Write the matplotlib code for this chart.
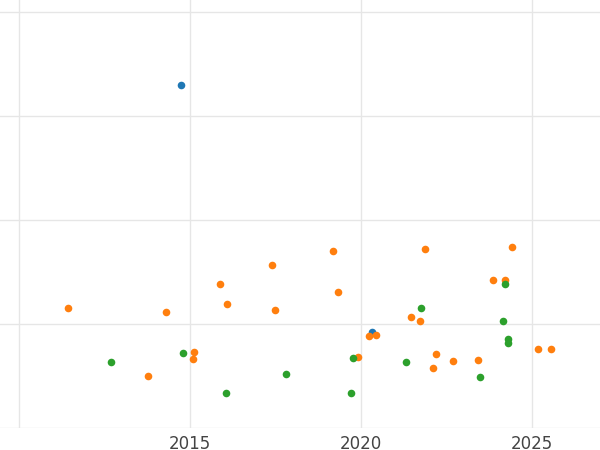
import matplotlib
matplotlib.use('Agg')
from matplotlib import pyplot as plt

# values (y has no labels in the reference)
blue_x = [2014.73, 2020.32]
blue_y = [3.30, 0.92]

orange_x = [2011.43, 2013.77, 2014.29, 2015.11, 2015.08, 2015.87, 2016.08, 2017.39, 2017.48,
            2019.18, 2019.32, 2019.91, 2020.23, 2020.43, 2021.46, 2021.72, 2021.87, 2022.19,
            2022.10, 2022.69, 2023.42, 2023.86, 2024.21, 2024.41, 2025.17, 2025.55]
orange_y = [1.15, 0.50, 1.12, 0.73, 0.66, 1.38, 1.19, 1.57, 1.13,
            1.70, 1.31, 0.68, 0.88, 0.89, 1.07, 1.03, 1.72, 0.71,
            0.58, 0.64, 0.65, 1.42, 1.42, 1.74, 0.76, 0.76]

green_x = [2012.69, 2014.79, 2016.05, 2017.80, 2019.70, 2019.76, 2021.31, 2021.75, 2023.47,
           2024.15, 2024.21, 2024.30, 2024.30]
green_y = [0.63, 0.72, 0.34, 0.52, 0.34, 0.67, 0.63, 1.15, 0.49,
           1.03, 1.38, 0.86, 0.82]

fig = plt.figure(figsize=(6, 4.5), dpi=100)
ax = fig.add_axes([0, 22/450, 1, 428/450])

ax.scatter(blue_x, blue_y, s=30, color='#1f77b4', zorder=3, linewidths=0)
ax.scatter(orange_x, orange_y, s=30, color='#ff7f0e', zorder=3, linewidths=0)
ax.scatter(green_x, green_y, s=30, color='#2ca02c', zorder=3, linewidths=0)

ax.set_xlim(2009.44, 2026.98)
ax.set_ylim(0, 4.115)
ax.set_xticks([2010, 2015, 2020, 2025])
ax.set_xticklabels(['', '2015', '2020', '2025'])
ax.set_yticks([0, 1, 2, 3, 4])
ax.set_yticklabels([])
ax.grid(True, color='#e6e6e6', linewidth=1)
ax.set_axisbelow(True)
ax.tick_params(length=0, labelsize=12, labelcolor='#444444', pad=5)
for s in ax.spines.values():
    s.set_visible(False)

fig.savefig('out.png', dpi=100)
